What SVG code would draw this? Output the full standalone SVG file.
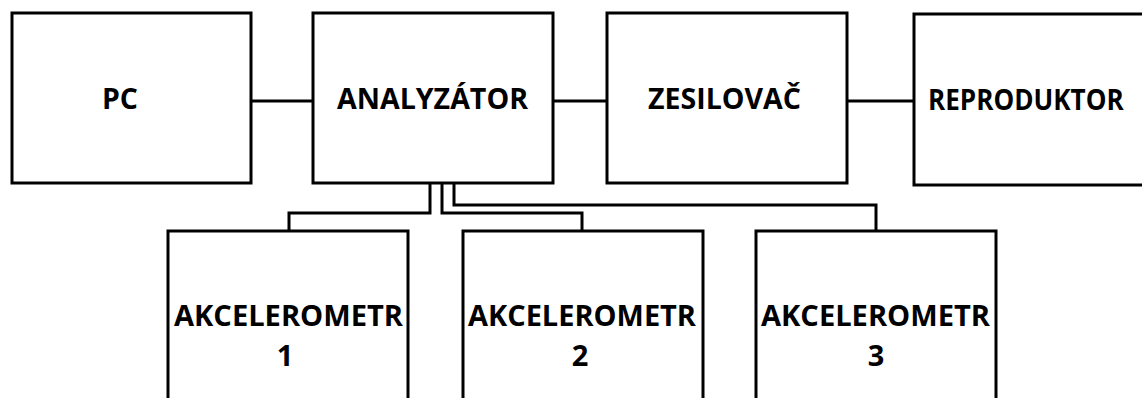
<svg xmlns="http://www.w3.org/2000/svg" width="1142" height="398" viewBox="0 0 1142 398">
<style>
.box{fill:#fff;stroke:#000;stroke-width:3}
.ln{fill:none;stroke:#000;stroke-width:3}
.t{font-family:"Open Sans","Liberation Sans",sans-serif;font-weight:700;font-size:29px;fill:#000}
.m{text-anchor:middle}
</style>
<rect width="1142" height="398" fill="#fff"/>
<g id="connectors">
<line class="ln" x1="251" y1="101" x2="313" y2="101"/>
<line class="ln" x1="553" y1="101" x2="607" y2="101"/>
<line class="ln" x1="847" y1="101" x2="914" y2="101"/>
<path class="ln" d="M430 183 V213 H289 V231"/>
<path class="ln" d="M442 183 V213 H582 V231"/>
<path class="ln" d="M454 183 V205 H876 V231"/>
</g>
<g id="pc">
<rect class="box" x="12" y="13" width="239" height="170"/>
<text class="t" x="102" y="109" textLength="36" lengthAdjust="spacingAndGlyphs">PC</text>
</g>
<g id="analyzator">
<rect class="box" x="313" y="13" width="240" height="170"/>
<text class="t" x="337" y="109" textLength="191" lengthAdjust="spacingAndGlyphs">ANALYZÁTOR</text>
</g>
<g id="zesilovac">
<rect class="box" x="607" y="13" width="240" height="170"/>
<text class="t" x="648" y="109" textLength="153" lengthAdjust="spacingAndGlyphs">ZESILOVAČ</text>
</g>
<g id="reproduktor">
<rect class="box" x="914" y="14" width="240" height="171"/>
<text class="t" transform="translate(928 110) scale(0.9 1)" x="0" y="0">REPRODUKTOR</text>
</g>
<g id="akcelerometr1">
<rect class="box" x="168" y="231" width="240" height="200"/>
<text class="t" x="174" y="326" textLength="229" lengthAdjust="spacingAndGlyphs">AKCELEROMETR</text>
<text class="t m" x="285" y="366">1</text>
</g>
<g id="akcelerometr2">
<rect class="box" x="463" y="231" width="240" height="200"/>
<text class="t" x="468" y="326" textLength="228" lengthAdjust="spacingAndGlyphs">AKCELEROMETR</text>
<text class="t m" x="580" y="366">2</text>
</g>
<g id="akcelerometr3">
<rect class="box" x="756" y="231" width="240" height="200"/>
<text class="t" x="761" y="326" textLength="229" lengthAdjust="spacingAndGlyphs">AKCELEROMETR</text>
<text class="t m" x="876" y="366">3</text>
</g>
</svg>
